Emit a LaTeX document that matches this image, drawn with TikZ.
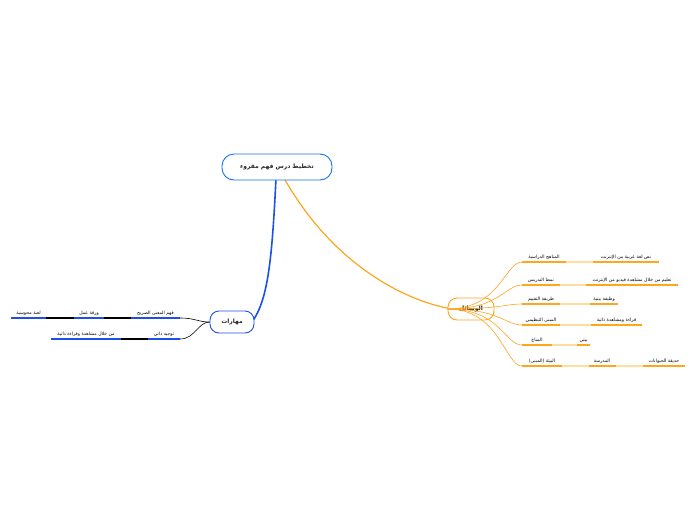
\documentclass[tikz,border=0pt]{standalone}
\usepackage{fontspec}
\newfontfamily\arabicfont[Script=Arabic]{DejaVu Sans}
\TeXXeTstate=1
\definecolor{bl}{HTML}{1E50E6}
\definecolor{lbl}{HTML}{A8C0F5}
\definecolor{orr}{HTML}{FFA51E}
\definecolor{lor}{HTML}{FFDCA0}
\begin{document}
\begin{tikzpicture}[x=1pt,y=-1pt,
 lbl/.style={font=\arabicfont\fontsize{4.6}{5}\selectfont,inner sep=1pt,anchor=south},
 topic/.style={draw,rounded corners=9pt,line width=0.9pt,fill=white,font=\arabicfont\bfseries\fontsize{6}{7}\selectfont,minimum height=22pt,text=black!85}]
\useasboundingbox (0,0) rectangle (696,520);
% main branches
\draw[bl,line width=1.6pt] (276,178) .. controls (272,260) and (268,300) .. (252,322);
\draw[orr,line width=1.2pt] (284,178) .. controls (330,260) and (400,300) .. (452,309);
\node[topic,draw=bl!80!cyan,minimum width=110pt,minimum height=26pt,rounded corners=12pt] (c) at (277,167) {\beginR تخطيط درس فهم مقروء\endR};
\node[topic,draw=bl,minimum width=44pt] (m) at (232,322) {\beginR مهارات\endR};
\node[topic,draw=orr,minimum width=46pt] (w) at (471,309) {\beginR الوسائل\endR};
% right rows
\foreach \y/\a/\b/\c/\d/\ta/\tb in {
 262/522/566/593/659/{المناهج الدراسية}/{نص لغة عربية من الإنترنت},
 285/522/560/586/678/{نمط التدريس}/{تعليم من خلال مشاهدة فيديو من الإنترنت},
 304/522/560/590/618/{طريقة التقييم}/{وظيفة بيتية},
 325/522/560/591/642/{المبنى التنظيمي}/{قراءة ومشاهدة ذاتية},
 345/522/552/577/590/{المناخ}/{بيتي}}{
 \draw[orr,line width=0.6pt] (w.west) ++(0,0) .. controls (500,309) and (505,\y) .. (\a,\y);
 \draw[orr,line width=1.4pt] (\a,\y) -- (\b,\y);
 \draw[lor,line width=1.2pt] (\b,\y) -- (\c,\y);
 \draw[orr,line width=1.4pt] (\c,\y) -- (\d,\y);
 \node[lbl] at ({(\a+\b)/2},\y-1.5) {\beginR\ta\endR};
 \node[lbl] at ({(\c+\d)/2},\y-1.5) {\beginR\tb\endR};
}
\draw[orr,line width=0.6pt] (w.west) .. controls (500,309) and (505,366) .. (522,366);
\draw[orr,line width=1.4pt] (522,366) -- (562,366);
\draw[lor,line width=1.2pt] (562,366) -- (589,366);
\draw[orr,line width=1.4pt] (589,366) -- (616,366);
\draw[lor,line width=1.2pt] (616,366) -- (643,366);
\draw[orr,line width=1.4pt] (643,366) -- (685,366);
\node[lbl] at (542,364.5) {\beginR البيئة (المبنى)\endR};
\node[lbl] at (602,364.5) {\beginR المدرسة\endR};
\node[lbl] at (664,364.5) {\beginR حديقة الحيوانات\endR};
% left rows
\draw[lbl,line width=0.6pt] (m.west) .. controls (198,322) and (195,318) .. (180,318);
\draw[bl,line width=1.4pt] (180,318) -- (131,318);
\draw[lbl,line width=1.2pt] (131,318) -- (104,318);
\draw[bl,line width=1.4pt] (104,318) -- (74,318);
\draw[lbl,line width=1.2pt] (74,318) -- (46,318);
\draw[bl,line width=1.4pt] (46,318) -- (11,318);
\node[lbl] at (155.5,316.5) {\beginR فهم المعنى الصريح\endR};
\node[lbl] at (89,316.5) {\beginR ورقة عمل\endR};
\node[lbl] at (28.5,316.5) {\beginR لعبة محوسبة\endR};
\draw[lbl,line width=0.6pt] (m.west) .. controls (198,322) and (195,339) .. (180,339);
\draw[bl,line width=1.4pt] (180,339) -- (148,339);
\draw[lbl,line width=1.2pt] (148,339) -- (121,339);
\draw[bl,line width=1.4pt] (121,339) -- (51,339);
\node[lbl] at (164,337.5) {\beginR توجيه ذاتي\endR};
\node[lbl] at (86,337.5) {\beginR من خلال مشاهدة وقراءة ذاتية\endR};
\end{tikzpicture}
\end{document}
